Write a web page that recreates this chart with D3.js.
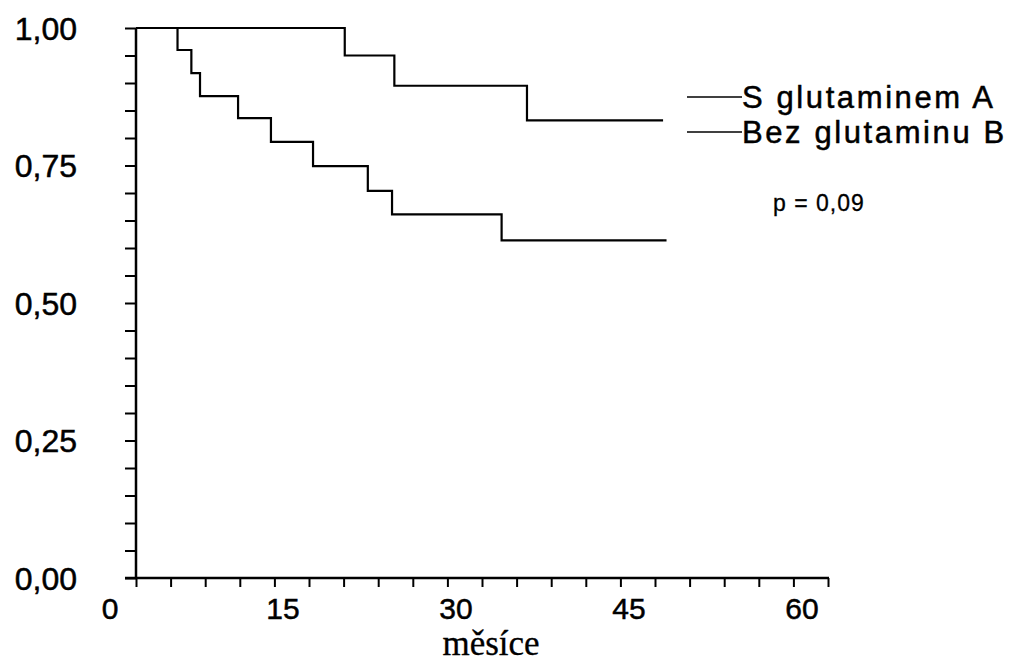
<!DOCTYPE html>
<html>
<head>
<meta charset="utf-8">
<script src="https://cdn.jsdelivr.net/npm/d3@7"></script>
<style>
  html, body { margin: 0; padding: 0; background: #fff; }
  svg { display: block; }
  text { font-family: "Liberation Sans", Arial, sans-serif; fill: #000; stroke: #000; stroke-width: 0.5px; }
</style>
</head>
<body>
<svg id="chart" width="1023" height="664"></svg>
<script>
// ---- data ----
const seriesNames = ["S glutaminem A", "Bez glutaminu B"];
const timesA = [0, 18.1, 22.4, 33.9, 45.7];
const survA  = [1.00, 0.95, 0.895, 0.832, 0.832];
const timesB = [0, 3.6, 4.8, 5.55, 8.85, 11.7, 15.35, 20.1, 22.2, 31.7, 46.0];
const survB  = [1.00, 0.96, 0.918, 0.876, 0.836, 0.793, 0.749, 0.704, 0.661, 0.614, 0.614];
const xTickLabels = [0, 15, 30, 45, 60];
const yTickLabels = [0, 0.25, 0.5, 0.75, 1];
const xLabel = "měsíce";
const pText = "p = 0,09";

// ---- layout ----
const svg = d3.select("#chart");
const x = d3.scaleLinear().domain([0, 60]).range([136, 828]);
const y = d3.scaleLinear().domain([0, 1]).range([578, 28]);

// y axis minor/major ticks
const yTicks = d3.range(0, 1.0001, 0.05);
svg.append("g")
  .attr("transform", `translate(${x(0)},0)`)
  .call(d3.axisLeft(y).tickValues(yTicks).tickSize(11).tickFormat(""))
  .call(g => g.select(".domain").remove())
  .call(g => g.selectAll(".tick line").attr("stroke", "#000").attr("stroke-width", 2));

// x axis ticks
const xTicks = d3.range(0, 60.001, 3);
svg.append("g")
  .attr("transform", `translate(0,${y(0)})`)
  .call(d3.axisBottom(x).tickValues(xTicks).tickSize(9).tickFormat(""))
  .call(g => g.select(".domain").remove())
  .call(g => g.selectAll(".tick line").attr("stroke", "#000").attr("stroke-width", 2));

// axis lines
svg.append("line")
  .attr("x1", x(0)).attr("x2", x(0)).attr("y1", y(1)).attr("y2", y(0) + 1)
  .attr("stroke", "#000").attr("stroke-width", 2.5);
svg.append("line")
  .attr("x1", x(0) - 11).attr("x2", x(60) + 1).attr("y1", y(0)).attr("y2", y(0))
  .attr("stroke", "#000").attr("stroke-width", 2.5);

// y tick labels
const fmt = v => d3.format(".2f")(v).replace(".", ",");
svg.append("g").selectAll("text")
  .data(yTickLabels).join("text")
  .attr("x", 77)
  .attr("y", d => y(d))
  .attr("dy", "0.36em")
  .attr("text-anchor", "end")
  .attr("font-size", 32)
  .text(fmt);

// x tick labels
svg.append("g").selectAll("text")
  .data(xTickLabels).join("text")
  .attr("x", d => x(d) - 26)
  .attr("y", 619)
  .attr("text-anchor", "middle")
  .attr("font-size", 30)
  .text(d => d);

// x axis title
svg.append("text")
  .attr("x", 491)
  .attr("y", 655)
  .attr("text-anchor", "middle")
  .attr("font-size", 35)
  .style("font-family", "'Liberation Serif', 'Times New Roman', serif")
  .style("stroke-width", "0.3px")
  .text(xLabel);

// curves
const line = d3.line().x(d => x(d[0])).y(d => y(d[1])).curve(d3.curveStepAfter);
const dataA = timesA.map((t, i) => [t, survA[i]]);
const dataB = timesB.map((t, i) => [t, survB[i]]);
[dataA, dataB].forEach(d => {
  svg.append("path")
    .attr("d", line(d))
    .attr("fill", "none")
    .attr("stroke", "#000")
    .attr("stroke-width", 2.2);
});

// legend
const legendY = [97, 132];
seriesNames.forEach((name, i) => {
  svg.append("line")
    .attr("x1", 687).attr("x2", 742)
    .attr("y1", legendY[i]).attr("y2", legendY[i])
    .attr("stroke", "#000").attr("stroke-width", 1.5);
  svg.append("text")
    .attr("x", 742)
    .attr("y", legendY[i])
    .attr("dy", "0.36em")
    .attr("font-size", 31)
    .style("letter-spacing", "2.6px")
    .text(name);
});

svg.append("text")
  .attr("x", 773)
  .attr("y", 203)
  .attr("dy", "0.36em")
  .attr("font-size", 23)
  .style("letter-spacing", "1px")
  .style("stroke-width", "0.3px")
  .text(pText);
</script>
</body>
</html>
